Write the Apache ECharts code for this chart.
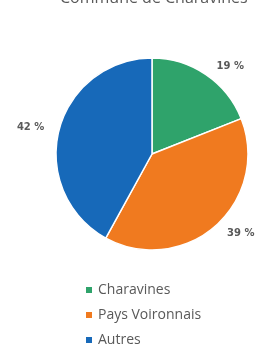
<!DOCTYPE html>
<html>
<head>
    <meta charset="utf-8" />
    <title>Commune de Charavines</title>
    <script src="https://cdn.jsdelivr.net/npm/echarts@6/dist/echarts.min.js"></script>
    <style>
        html, body { margin: 0; padding: 0; background: #fff; }
    </style>
</head>
<body>
    <div id="main" style="width:267px;height:345px;"></div>
    <script type="text/javascript">
        // données du graphique
        var categories = ['Charavines', 'Pays Voironnais', 'Autres'];
        var values = [19, 39, 42];
        var colors = ['#2fa36b', '#f07a1f', '#1769b9'];

        var myChart = echarts.init(document.getElementById('main'));
        myChart.setOption({
            animation: false,
            color: colors,
            title: {
                text: 'Commune de Charavines',
                left: 55,
                top: -15,
                textStyle: { fontFamily: 'Open Sans', fontSize: 16, fontWeight: 'normal', color: '#595959' }
            },
            legend: {
                orient: 'vertical',
                left: 79,
                top: 278,
                height: 120,
                icon: 'rect',
                itemWidth: 8,
                itemHeight: 8,
                itemGap: 11,
                data: categories,
                textStyle: { fontFamily: 'Open Sans', fontSize: 14, color: '#595959' }
            },
            series: [{
                type: 'pie',
                center: [152, 154],
                radius: 96,
                startAngle: 90,
                clockwise: true,
                itemStyle: { borderColor: '#fff', borderWidth: 1.5 },
                label: {
                    show: true,
                    position: 'outside',
                    overflow: 'none',
                    formatter: '{c} %',
                    fontFamily: 'DejaVu Sans',
                    fontSize: 10,
                    fontWeight: 'bold',
                    color: '#595959'
                },
                labelLine: { show: false, length: 10, length2: 0 },
                data: categories.map(function (name, i) {
                    return { name: name, value: values[i] };
                })
            }]
        });
    </script>
</body>
</html>
